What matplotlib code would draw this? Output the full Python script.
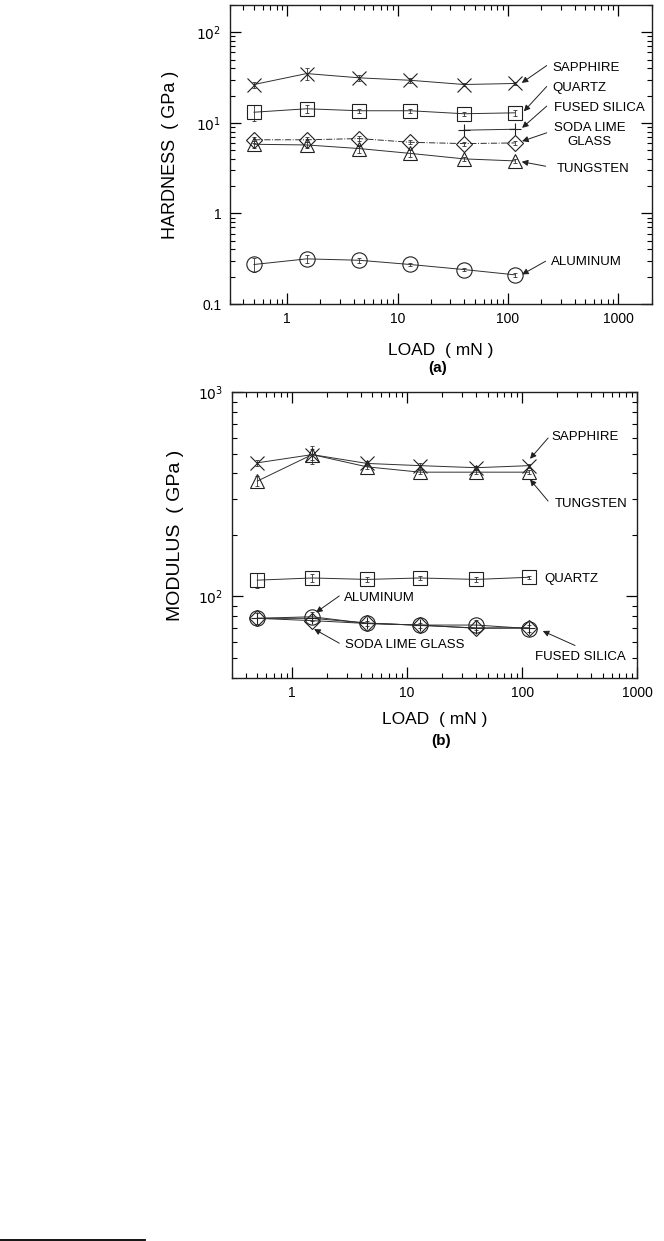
import numpy as np
import matplotlib
matplotlib.use("Agg")
import matplotlib.pyplot as plt
from matplotlib.ticker import FixedLocator, FixedFormatter, LogLocator, NullFormatter
from matplotlib.lines import Line2D

plt.rcParams['font.family'] = ['Liberation Sans', 'DejaVu Sans']

# ---------------- data ----------------
load = [0.5, 1.5, 4.5, 13, 40, 115]

# (a) hardness, GPa
h_sapphire = [26.5, 35.0, 31.4, 29.5, 26.5, 27.2]
h_quartz = [13.1, 14.3, 13.6, 13.6, 12.6, 12.9]
h_fused_load = [40, 115]
h_fused = [8.3, 8.5]
h_soda = [6.5, 6.5, 6.7, 6.1, 5.9, 6.0]
h_tungsten = [5.8, 5.7, 5.2, 4.6, 4.0, 3.8]
h_aluminum = [0.273, 0.315, 0.304, 0.273, 0.24, 0.21]

h_sapphire_err = [2.0, 5.0, 2.5, 2.0, 1.0, 1.0]
h_quartz_err = [2.5, 1.5, 0.6, 0.8, 0.6, 1.0]
h_soda_err = [0.5, 0.4, 0.4, 0.3, 0.3, 0.3]
h_tungsten_err = [0.5, 0.4, 0.5, 0.4, 0.2, 0.2]
h_aluminum_err = [0.05, 0.03, 0.02, 0.01, 0.01, 0.01]

# (b) modulus, GPa
m_sapphire = [451, 495, 448, 437, 427, 437]
m_tungsten = [367, 495, 431, 406, 406, 406]
m_quartz = [120, 123, 121, 123, 121, 124]
m_aluminum = [78, 79.4, 73.6, 72.3, 72.3, 69.5]
m_soda = [78, 76, 73.6, 72.3, 69.7, 69.9]
m_fused = [78, 78, 74, 72, 70, 70]

m_sapphire_err = [15, 50, 15, 15, 10, 10]
m_tungsten_err = [20, 30, 10, 10, 10, 10]
m_quartz_err = [10, 5, 4, 3, 3, 2]
m_aluminum_err = [5, 4, 2, 2, 4, 3]

FIG_W, FIG_H = 664, 1241
fig = plt.figure(figsize=(FIG_W / 100, FIG_H / 100), dpi=100)

LC = '#303030'
MK = dict(mfc='none', mec='#202020', mew=0.8)


def style_axes(ax):
    for s in ax.spines.values():
        s.set_linewidth(1.0)
        s.set_color('#202020')
    ax.tick_params(which='major', direction='in', length=8, width=0.9,
                   top=True, right=True, labelsize=10, pad=6)
    ax.tick_params(which='minor', direction='in', length=3.5, width=0.8,
                   top=True, right=True)
    ax.xaxis.set_minor_locator(LogLocator(base=10, subs=np.arange(2, 10), numticks=20))
    ax.xaxis.set_minor_formatter(NullFormatter())
    ax.yaxis.set_minor_locator(LogLocator(base=10, subs=np.arange(2, 10), numticks=20))
    ax.yaxis.set_minor_formatter(NullFormatter())


def series(ax, x, y, marker, ms, err=None, ls='-'):
    ax.plot(x, y, ls=ls, color=LC, lw=0.7, marker=marker, ms=ms, **MK, zorder=3)
    if err is not None:
        ax.errorbar(x, y, yerr=err, fmt='none', ecolor='#303030', elinewidth=0.6,
                    capsize=1.5, capthick=0.6, zorder=2)


def arrow(ax, tail, head):
    ax.annotate('', xy=head, xytext=tail,
                arrowprops=dict(arrowstyle='-|>', color='#202020', lw=0.7,
                                mutation_scale=9, shrinkA=0, shrinkB=0))


AFS = 9.5

# ---------------- panel (a) ----------------
ax1 = fig.add_axes([229.5 / FIG_W, 1 - 304 / FIG_H, (651.7 - 229.5) / FIG_W, (304 - 5) / FIG_H])
ax1.set_xscale('log')
ax1.set_yscale('log')
ax1.set_xlim(0.3, 2000)
ax1.set_ylim(0.1, 200)
style_axes(ax1)
ax1.xaxis.set_major_locator(FixedLocator([1, 10, 100, 1000]))
ax1.xaxis.set_major_formatter(FixedFormatter(['1', '10', '100', '1000']))
ax1.yaxis.set_major_locator(FixedLocator([0.1, 1, 10, 100]))
ax1.yaxis.set_major_formatter(FixedFormatter(['0.1', '1', r'$10^1$', r'$10^2$']))

series(ax1, load, h_sapphire, 'x', 10, h_sapphire_err)
series(ax1, load, h_quartz, 's', 9.5, h_quartz_err)
series(ax1, h_fused_load, h_fused, '+', 9, None)
series(ax1, load, h_soda, 'D', 8.5, h_soda_err, ls='-.')
series(ax1, load, h_tungsten, '^', 10, h_tungsten_err)
series(ax1, load, h_aluminum, 'o', 11, h_aluminum_err)

ax1.set_xlabel('LOAD  ( mN )', fontsize=12.5, labelpad=12)
ax1.set_ylabel('HARDNESS  ( GPa )', fontsize=13, labelpad=12)

ax1.text(251, 40.5, 'SAPPHIRE', fontsize=AFS, ha='left', va='center')
arrow(ax1, (224, 42.9), (133, 27.6))
ax1.text(251, 24.3, 'QUARTZ', fontsize=AFS, ha='left', va='center')
arrow(ax1, (224, 25.2), (139, 13.4))
ax1.text(260, 14.7, 'FUSED SILICA', fontsize=AFS, ha='left', va='center')
arrow(ax1, (224, 15.3), (134, 8.8))
ax1.text(546, 7.3, 'SODA LIME\nGLASS', fontsize=AFS, ha='center', va='center',
         linespacing=1.2)
arrow(ax1, (224, 7.76), (134, 6.27))
ax1.text(278, 3.1, 'TUNGSTEN', fontsize=AFS, ha='left', va='center')
arrow(ax1, (219, 3.32), (133, 3.72))
ax1.text(243, 0.289, 'ALUMINUM', fontsize=AFS, ha='left', va='center')
arrow(ax1, (219, 0.297), (134, 0.212))

fig.text(438 / FIG_W, 1 - 368 / FIG_H, '(a)', fontsize=11, fontweight='bold',
         ha='center', va='center')

# ---------------- panel (b) ----------------
ax2 = fig.add_axes([231.7 / FIG_W, 1 - 677.5 / FIG_H, (637.3 - 231.7) / FIG_W, (677.5 - 392.3) / FIG_H])
ax2.set_xscale('log')
ax2.set_yscale('log')
ax2.set_xlim(0.3, 1000)
ax2.set_ylim(40, 1000)
style_axes(ax2)
ax2.xaxis.set_major_locator(FixedLocator([1, 10, 100, 1000]))
ax2.xaxis.set_major_formatter(FixedFormatter(['1', '10', '100', '1000']))
ax2.yaxis.set_major_locator(FixedLocator([100, 1000]))
ax2.yaxis.set_major_formatter(FixedFormatter([r'$10^2$', r'$10^3$']))

series(ax2, load, m_sapphire, 'x', 10, m_sapphire_err)
series(ax2, load, m_tungsten, '^', 10, m_tungsten_err)
series(ax2, load, m_quartz, 's', 9.5, m_quartz_err)
series(ax2, load, m_fused, '+', 9, None)
series(ax2, load, m_soda, 'D', 8.5, None)
series(ax2, load, m_aluminum, 'o', 11, m_aluminum_err)

ax2.set_xlabel('LOAD  ( mN )', fontsize=12.5, labelpad=9)
ax2.set_ylabel('MODULUS  ( GPa )', fontsize=14, labelpad=10)

ax2.text(180, 604, 'SAPPHIRE', fontsize=AFS, ha='left', va='center')
arrow(ax2, (168, 597), (117, 472))
ax2.text(193, 282, 'TUNGSTEN', fontsize=AFS, ha='left', va='center')
arrow(ax2, (168, 293), (117, 374))
ax2.text(155, 122, 'QUARTZ', fontsize=AFS, ha='left', va='center')
ax2.text(2.86, 98.2, 'ALUMINUM', fontsize=AFS, ha='left', va='center')
arrow(ax2, (2.58, 100.4), (1.62, 83.4))
ax2.text(2.91, 57.7, 'SODA LIME GLASS', fontsize=AFS, ha='left', va='center')
arrow(ax2, (2.58, 58.9), (1.56, 69.1))
ax2.text(129, 50.3, 'FUSED SILICA', fontsize=AFS, ha='left', va='center')
arrow(ax2, (288, 57.4), (151, 67.6))

fig.text(441 / FIG_W, 1 - 741 / FIG_H, '(b)', fontsize=11, fontweight='bold',
         ha='center', va='center')

# footnote rule at bottom of page
fig.add_artist(Line2D([0, 145 / FIG_W], [1 - 1239.5 / FIG_H] * 2, color='black', lw=1.3))

fig.savefig('out.png', dpi=100)
